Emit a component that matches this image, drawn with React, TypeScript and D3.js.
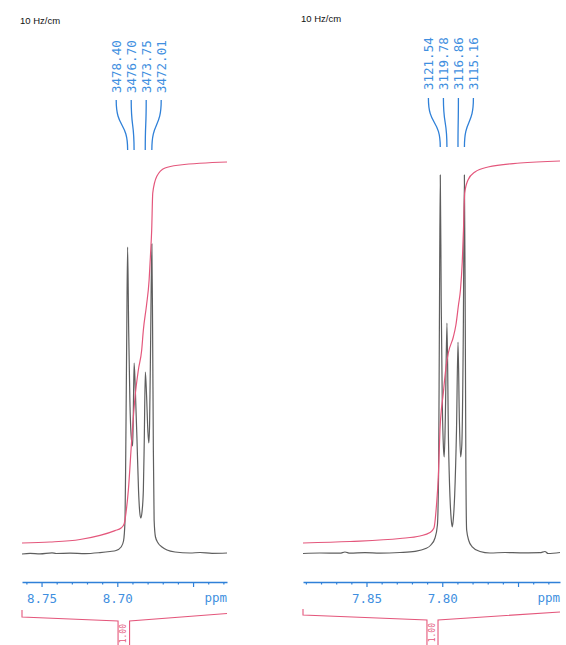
import React, { useRef, useEffect } from 'react';
import * as d3 from 'd3';

const W = 566;
const H = 645;

const spectrometerMHz = 400.13;
const scaleLabel = '10 Hz/cm';

// left multiplet (~8.69 ppm)
const leftPeaksHz = [3478.4, 3476.7, 3473.75, 3472.01];
const leftPeakLabels = ['3478.40', '3476.70', '3473.75', '3472.01'];
const leftMajorTicks = [8.75, 8.7, 8.65];
const leftMinorTicks = [8.76, 8.74, 8.73, 8.72, 8.71, 8.69, 8.68, 8.67, 8.66, 8.64, 8.63];
const leftDomain = [8.7629, 8.6276];
const leftIntegralRegion = [8.6995, 8.6919];
const leftIntegralValue = '1.00';
const leftSpectrum = [
  [8.7629, -0.25], [8.7576, -0.08], [8.751, -0.2], [8.7431, 0.05], [8.7404, -0.12],
  [8.7312, -0.05], [8.7213, -0.15], [8.7114, 0.1], [8.7048, 0.38], [8.7008, 0.62],
  [8.6975, 1.5], [8.6959, 3], [8.6949, 8.25], [8.6944, 25.75], [8.6938, 53.25],
  [8.6932, 76.5], [8.6925, 55.75], [8.6917, 38.25], [8.6909, 29.5], [8.6899, 26.75],
  [8.6895, 33.25], [8.6889, 47.5], [8.6881, 40.75], [8.687, 28.25], [8.686, 15.75],
  [8.6852, 10.25], [8.6845, 8.75], [8.6837, 10.25], [8.6828, 15.75], [8.6822, 28.25],
  [8.6815, 45.25], [8.6807, 39.5], [8.6798, 30.25], [8.6792, 27.5], [8.6787, 32],
  [8.678, 53.25], [8.6772, 77.25], [8.6767, 55.75], [8.6762, 25.75], [8.6757, 8.25],
  [8.6748, 4], [8.6731, 2.5], [8.6705, 1.5], [8.6672, 0.75], [8.6619, 0.25],
  [8.652, 0], [8.6454, 0.12], [8.6375, -0.08], [8.6276, 0],
];
const leftIntegral = [
  [8.7629, 0], [8.7444, 0.25], [8.7246, 0.88], [8.7114, 1.9], [8.7015, 3.1],
  [8.6975, 3.75], [8.6955, 4.75], [8.6942, 7.75], [8.6927, 13.25], [8.6905, 25.75],
  [8.6883, 36.5], [8.6861, 43.25], [8.6839, 48.25], [8.6828, 53.25], [8.6807, 59.5],
  [8.679, 65.75], [8.6781, 72], [8.6773, 78.25], [8.6766, 87.5], [8.674, 91.6],
  [8.6685, 93.75], [8.6586, 94.5], [8.6276, 95.25],
];

// right multiplet (~7.79 ppm)
const rightPeaksHz = [3121.54, 3119.78, 3116.86, 3115.16];
const rightPeakLabels = ['3121.54', '3119.78', '3116.86', '3115.16'];
const rightMajorTicks = [7.85, 7.8, 7.75];
const rightMinorTicks = [7.89, 7.88, 7.87, 7.86, 7.84, 7.83, 7.82, 7.81, 7.79, 7.78, 7.77, 7.76, 7.74, 7.73];
const rightDomain = [7.8919, 7.7223];
const rightIntegralRegion = [7.8101, 7.8028];
const rightIntegralValue = '1.00';
const rightSpectrum = [
  [7.8919, -0.12], [7.8807, 0], [7.8675, -0.05], [7.8642, 0.25], [7.8609, -0.05],
  [7.851, 0.1], [7.8411, -0.05], [7.8279, 0.12], [7.818, 0.42], [7.8114, 1.05],
  [7.8075, 2], [7.8048, 3.75], [7.8032, 7], [7.8024, 20.75], [7.8019, 55.75],
  [7.8013, 94.5], [7.8007, 63.25], [7.8, 38.25], [7.7992, 26.25], [7.7987, 24],
  [7.798, 33.25], [7.7969, 57.5], [7.7959, 28.25], [7.7949, 14], [7.7941, 8.5],
  [7.7934, 6.5], [7.7927, 8.5], [7.7918, 14.5], [7.7906, 30.75], [7.7896, 52.75],
  [7.7887, 33.25], [7.7879, 24], [7.7871, 27], [7.7861, 55.75], [7.7854, 94.5],
  [7.7848, 55.75], [7.7844, 20.75], [7.7839, 5.75], [7.7824, 3], [7.7804, 1.62],
  [7.7751, 0.38], [7.7685, 0], [7.7586, 0.12], [7.7487, 0.05], [7.7355, 0.08],
  [7.7322, 0.38], [7.7302, -0.12], [7.7223, 0.12],
];
const rightIntegral = [
  [7.8919, 0], [7.8609, 0.38], [7.8279, 1.12], [7.8147, 1.75], [7.8081, 2.62],
  [7.8055, 3.75], [7.8038, 9.5], [7.8026, 16.5], [7.8015, 28.25], [7.7993, 37.5],
  [7.7976, 43.75], [7.796, 47.5], [7.7927, 51.5], [7.791, 54.5], [7.7893, 59.5],
  [7.788, 63.25], [7.7868, 70.25], [7.786, 78.25], [7.7852, 87.5], [7.783, 90.75],
  [7.7784, 92.75], [7.7698, 94], [7.7487, 95], [7.7223, 95.5],
];

const BLUE = '#2f80d8';
const BLUE_TEXT = '#3f8fe0';
const RED = '#e4577c';
const TRACE = '#4d4d4d';
const MONO = '"DejaVu Sans Mono", monospace';

const Panel = ({ cfg }) => {
  const gRef = useRef(null);

  useEffect(() => {
    const g = d3.select(gRef.current);
    g.selectAll('*').remove();

    const [x0, x1] = cfg.range;
    const x = d3.scaleLinear().domain(cfg.domain).range([x0, x1]);
    const y = d3.scaleLinear().domain([0, 100]).range([553, 153]);
    const yInt = d3.scaleLinear().domain([0, 100]).range([543, 143]);

    // header
    g.append('text')
      .attr('x', x0 - 2)
      .attr('y', cfg.titleY)
      .attr('font-family', '"Liberation Sans", Arial, sans-serif')
      .attr('font-size', 9.5)
      .attr('fill', '#111')
      .text(scaleLabel);

    // peak labels + connectors
    const peaksPpm = cfg.peaksHz.map((hz) => hz / spectrometerMHz);
    const mid = d3.mean(peaksPpm, (p) => x(p));
    const labelX = (i) => mid + (i - 1.5) * 15 + cfg.labelShift;

    g.selectAll('.plabel')
      .data(cfg.labels)
      .join('text')
      .attr('transform', (d, i) => `translate(${labelX(i)},${cfg.labelBottom}) rotate(-90)`)
      .attr('dominant-baseline', 'central')
      .attr('font-family', MONO)
      .attr('font-size', 12.5)
      .attr('fill', BLUE_TEXT)
      .text((d) => d);

    const t = cfg.connTop;
    const b = cfg.connBottom;
    const m = (t + b) / 2;
    g.selectAll('.conn')
      .data(peaksPpm)
      .join('path')
      .attr('d', (p, i) => {
        const lx = labelX(i);
        const px = x(p);
        return `M${lx},${t} C${lx},${m + 4} ${px},${m - 4} ${px},${b}`;
      })
      .attr('fill', 'none')
      .attr('stroke', BLUE)
      .attr('stroke-width', 1.3);

    // spectrum
    const line = d3.line().x((d) => x(d[0])).y((d) => y(d[1])).curve(d3.curveMonotoneX);
    g.append('path')
      .attr('d', line(cfg.spectrum))
      .attr('fill', 'none')
      .attr('stroke', TRACE)
      .attr('stroke-opacity', 0.9)
      .attr('stroke-width', 1.2);

    // integral
    const intLine = d3.line().x((d) => x(d[0])).y((d) => yInt(d[1])).curve(d3.curveMonotoneX);
    g.append('path')
      .attr('d', intLine(cfg.integral))
      .attr('fill', 'none')
      .attr('stroke', RED)
      .attr('stroke-width', 1.2);

    // ppm axis
    const fmt = d3.format('.2f');
    const last = cfg.major[cfg.major.length - 1];
    const axis = g.append('g').attr('transform', 'translate(0,582)');
    axis.call(
      d3.axisBottom(x)
        .tickValues(cfg.major)
        .tickSize(5)
        .tickSizeOuter(0)
        .tickPadding(7)
        .tickFormat((d) => (d === last ? '' : fmt(d)))
    );
    axis.select('.domain').attr('stroke', BLUE).attr('stroke-width', 1.4);
    axis.selectAll('.tick line').attr('stroke', BLUE).attr('stroke-width', 1.2);
    axis.selectAll('.tick text')
      .attr('font-family', MONO)
      .attr('font-size', 12.5)
      .attr('fill', BLUE_TEXT);

    const minor = g.append('g').attr('transform', 'translate(0,582)');
    minor.call(d3.axisBottom(x).tickValues(cfg.minor).tickSize(2.5).tickFormat(() => ''));
    minor.select('.domain').remove();
    minor.selectAll('.tick line').attr('stroke', BLUE).attr('stroke-width', 1.2);

    g.append('text')
      .attr('x', x1)
      .attr('y', 602)
      .attr('text-anchor', 'end')
      .attr('font-family', MONO)
      .attr('font-size', 12.5)
      .attr('fill', BLUE_TEXT)
      .text('ppm');

    // integral bracket
    const xa = x(cfg.region[0]);
    const xb = x(cfg.region[1]);
    const bk = cfg.bracket;
    g.append('path')
      .attr(
        'd',
        `M${x0},${bk.top} L${x0},${bk.left} L${xa},${bk.mid} L${xa},${H + 2}` +
          ` M${xb},${H + 2} L${xb},${bk.mid} L${x1},${bk.right}`
      )
      .attr('fill', 'none')
      .attr('stroke', RED)
      .attr('stroke-width', 1.1);

    g.append('text')
      .attr('transform', `translate(${(xa + xb) / 2},${bk.mid + 3}) rotate(-90)`)
      .attr('text-anchor', 'end')
      .attr('dominant-baseline', 'central')
      .attr('font-family', MONO)
      .attr('font-size', 8)
      .attr('fill', RED)
      .text(cfg.integralValue);
  }, [cfg]);

  return <g ref={gRef} />;
};

const panels = [
  {
    range: [22, 227],
    domain: leftDomain,
    peaksHz: leftPeaksHz,
    labels: leftPeakLabels,
    major: leftMajorTicks,
    minor: leftMinorTicks,
    spectrum: leftSpectrum,
    integral: leftIntegral,
    region: leftIntegralRegion,
    integralValue: leftIntegralValue,
    titleY: 24,
    labelBottom: 93,
    labelShift: -1,
    connTop: 100,
    connBottom: 150,
    bracket: { top: 610, left: 617, mid: 621, right: 613.5 },
  },
  {
    range: [303, 560],
    domain: rightDomain,
    peaksHz: rightPeaksHz,
    labels: rightPeakLabels,
    major: rightMajorTicks,
    minor: rightMinorTicks,
    spectrum: rightSpectrum,
    integral: rightIntegral,
    region: rightIntegralRegion,
    integralValue: rightIntegralValue,
    titleY: 22,
    labelBottom: 90,
    labelShift: -1.5,
    connTop: 98,
    connBottom: 147,
    bracket: { top: 609, left: 615, mid: 620, right: 612 },
  },
];

export default function App() {
  return (
    <svg
      width={W}
      height={H}
      style={{ position: 'absolute', left: 0, top: 0, background: '#fff' }}
    >
      {panels.map((p, i) => (
        <Panel key={i} cfg={p} />
      ))}
    </svg>
  );
}
